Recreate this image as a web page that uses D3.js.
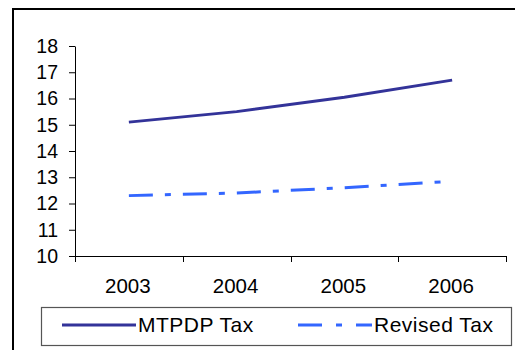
<!DOCTYPE html>
<html>
<head>
<meta charset="utf-8">
<script src="https://cdn.jsdelivr.net/npm/d3@7"></script>
<style>
  html, body { margin: 0; padding: 0; background: #fff; }
  svg { display: block; font-family: Arial, "Liberation Sans", sans-serif; }
</style>
</head>
<body>
<svg id="chart" width="515" height="350"></svg>
<script>
// Years on the category axis
const years = ["2003", "2004", "2005", "2006"];
// Tax rates per year for each scenario
const mtpdpTax = [15.1, 15.5, 16.05, 16.7];
const revisedTax = [12.3, 12.4, 12.6, 12.85];
// Value axis ticks
const yTicks = [10, 11, 12, 13, 14, 15, 16, 17, 18];
const seriesNames = ["MTPDP Tax", "Revised Tax"];

const svg = d3.select("#chart");
const plot = { left: 75, right: 506, top: 46, bottom: 256 };

// Outer frame (only the top and left edges fall inside the view)
svg.append("rect")
  .attr("x", 13).attr("y", 9)
  .attr("width", 560).attr("height", 400)
  .attr("fill", "none").attr("stroke", "#000").attr("stroke-width", 2);

const x = d3.scaleBand().domain(years).range([plot.left, plot.right]);
const y = d3.scaleLinear().domain([10, 18]).range([plot.bottom, plot.top]);

// Y axis
const yAxis = svg.append("g")
  .attr("transform", `translate(${plot.left},0)`)
  .call(d3.axisLeft(y).tickValues(yTicks).tickSize(6).tickSizeOuter(0).tickPadding(11));
yAxis.selectAll("path, line").attr("stroke", "#000");
yAxis.selectAll("text").attr("font-size", 19.5).attr("fill", "#000")
  .attr("font-family", "Arial, 'Liberation Sans', sans-serif");

// X axis: ticks sit on category boundaries
const xAxisG = svg.append("g").attr("transform", `translate(0,${plot.bottom})`);
xAxisG.append("line")
  .attr("x1", plot.left).attr("x2", plot.right)
  .attr("y1", 0.5).attr("y2", 0.5).attr("stroke", "#000");
const bounds = years.map(d => x(d)).concat([plot.right]);
xAxisG.selectAll(".tk").data(bounds).join("line")
  .attr("x1", d => Math.round(d) + 0.5).attr("x2", d => Math.round(d) + 0.5)
  .attr("y1", 0).attr("y2", 6).attr("stroke", "#000");
xAxisG.selectAll(".lbl").data(years).join("text")
  .attr("x", d => x(d) + x.bandwidth() / 2 - 1)
  .attr("y", 36.5)
  .attr("text-anchor", "middle")
  .attr("font-size", 20.5)
  .attr("fill", "#000")
  .text(d => d);

const line = d3.line()
  .x((d, i) => x(years[i]) + x.bandwidth() / 2)
  .y(d => y(d));

const dashPattern = "24,12,6,12";

svg.append("path").datum(mtpdpTax)
  .attr("d", line)
  .attr("fill", "none").attr("stroke", "#333399").attr("stroke-width", 3);

svg.append("path").datum(revisedTax)
  .attr("d", line)
  .attr("fill", "none").attr("stroke", "#3366FF").attr("stroke-width", 3)
  .attr("stroke-dasharray", dashPattern);

// Legend
const legend = svg.append("g");
legend.append("rect")
  .attr("x", 41.5).attr("y", 307.5).attr("width", 470).attr("height", 38)
  .attr("fill", "#fff").attr("stroke", "#555").attr("stroke-width", 1.2);

const legendItems = [
  { name: seriesNames[0], color: "#333399", dash: null, x0: 62, x1: 136, tx: 138 },
  { name: seriesNames[1], color: "#3366FF", dash: "24,14,6,14", x0: 298, x1: 372, tx: 374 }
];
legendItems.forEach(it => {
  legend.append("line")
    .attr("x1", it.x0).attr("x2", it.x1).attr("y1", 325).attr("y2", 325)
    .attr("stroke", it.color).attr("stroke-width", 3)
    .attr("stroke-dasharray", it.dash);
  legend.append("text")
    .attr("x", it.tx).attr("y", 332)
    .attr("font-size", 21).attr("letter-spacing", 0.5).attr("fill", "#000")
    .text(it.name);
});
</script>
</body>
</html>
